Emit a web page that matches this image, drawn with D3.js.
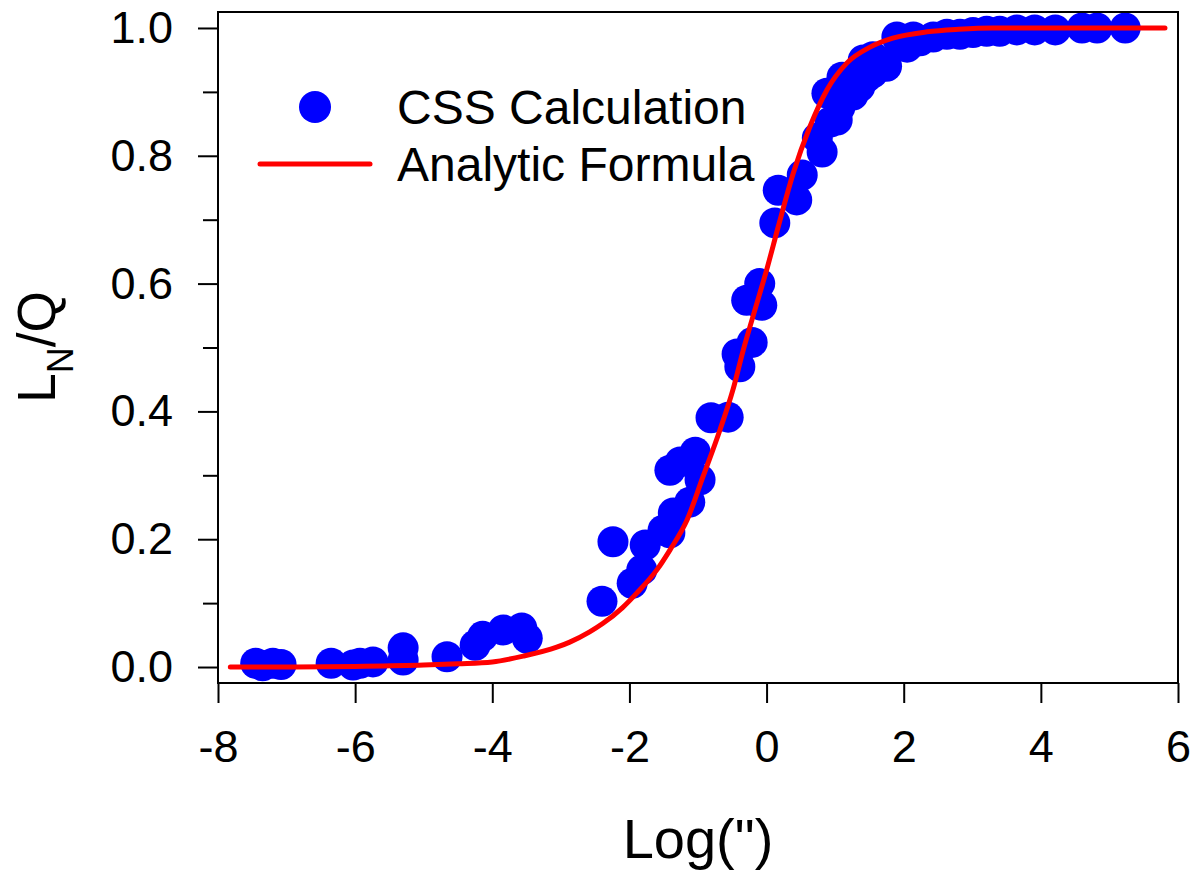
<!DOCTYPE html>
<html>
<head>
<meta charset="utf-8">
<script src="https://cdnjs.cloudflare.com/ajax/libs/d3/7.8.5/d3.min.js"></script>
<style>
  body { margin: 0; background: #fff; }
  svg text { font-family: "Liberation Sans", Arial, sans-serif; fill: #000; }
</style>
</head>
<body>
<div id="chart"></div>
<script>
// CSS calculation points
const cssX = [-7.45, -7.35, -7.2, -7.08, -6.35, -6.03, -5.93, -5.74, -5.30, -5.30, -4.66,
  -4.25, -4.14, -3.84, -3.57, -3.49, -2.40, -2.24, -1.96, -1.82, -1.77, -1.51, -1.41, -1.36,
  -1.12, -1.41, -1.26, -1.04, -0.97, -0.81, -0.56, -0.39, -0.43, -0.21, -0.29, -0.10, -0.07,
  0.12, 0.17, 0.44, 0.52, 0.81, 0.74, 0.93, 0.88, 1.10, 1.07, 1.03, 1.19, 1.26, 1.36, 1.46,
  1.55, 1.55, 1.68, 1.75, 1.41, 1.90, 2.05, 2.14, 2.24, 2.43, 2.63, 2.82, 3.01, 3.21, 3.40,
  3.65, 3.91, 4.21, 4.60, 4.82, 5.23];
const cssY = [0.006, 0.002, 0.006, 0.004, 0.006, 0.003, 0.006, 0.008, 0.030, 0.011, 0.016,
  0.034, 0.048, 0.058, 0.061, 0.045, 0.103, 0.196, 0.131, 0.152, 0.191, 0.214, 0.210, 0.241,
  0.258, 0.308, 0.321, 0.336, 0.293, 0.390, 0.391, 0.470, 0.490, 0.508, 0.574, 0.600, 0.566,
  0.695, 0.746, 0.731, 0.770, 0.806, 0.828, 0.853, 0.898, 0.923, 0.876, 0.856, 0.903, 0.895, 0.908, 0.923,
  0.955, 0.930, 0.947, 0.940, 0.950, 0.986, 0.970, 0.986, 0.980, 0.986, 0.990, 0.990, 0.993, 0.995, 0.995,
  0.997, 0.997, 0.997, 1.000, 1.000, 1.000];

// Analytic formula curve
const curveX = [-7.82, -7.0, -6.0, -5.0, -4.5, -4.0, -3.55, -3.06, -2.87, -2.58, -2.39, -2.1,
  -1.89, -1.6, -1.41, -1.16, -0.93, -0.68, -0.49, -0.34, -0.2, 0.0, 0.17, 0.39, 0.63, 0.88,
  1.17, 1.51, 1.84, 2.34, 2.8, 3.3, 4.5, 5.81];
const curveY = [0.0, 0.0, 0.001, 0.003, 0.005, 0.008, 0.017, 0.031, 0.039, 0.055, 0.068, 0.093,
  0.116, 0.152, 0.183, 0.23, 0.297, 0.371, 0.434, 0.496, 0.548, 0.621, 0.689, 0.773, 0.845, 0.903,
  0.945, 0.97, 0.984, 0.994, 0.998, 1.0, 1.0, 1.0];

const xTicks = [-8, -6, -4, -2, 0, 2, 4, 6];
const yTicks = [0, 0.2, 0.4, 0.6, 0.8, 1.0];
const yMinorTicks = [0.1, 0.3, 0.5, 0.7, 0.9];
const legendLabels = ["CSS Calculation", "Analytic Formula"];

const margin = {top: 12, right: 17, bottom: 187, left: 218};
const width = 1195 - margin.left - margin.right;
const height = 870 - margin.top - margin.bottom;

const svg = d3.select("#chart")
  .append("svg")
  .attr("width", width + margin.left + margin.right)
  .attr("height", height + margin.top + margin.bottom)
  .append("g")
  .attr("transform", `translate(${margin.left},${margin.top})`);

const x = d3.scaleLinear().domain([-8, 6]).range([0, width]);
const y = d3.scaleLinear().domain([-0.025, 1.025]).range([height, 0]);

// Axes (plain hyphen for negatives, like the original)
const xAxis = svg.append("g")
  .attr("transform", `translate(0,${height})`)
  .call(d3.axisBottom(x).tickValues(xTicks).tickSize(20).tickPadding(27).tickFormat(d => String(d)));

const yAxis = svg.append("g")
  .call(d3.axisLeft(y).tickValues(yTicks).tickSize(20).tickPadding(25).tickFormat(d3.format(".1f")));

const yMinor = svg.append("g")
  .call(d3.axisLeft(y).tickValues(yMinorTicks).tickSize(15).tickFormat(""));

[xAxis, yAxis, yMinor].forEach(a => {
  a.select(".domain").remove();
  a.selectAll("line").attr("stroke", "#000").attr("stroke-width", 2);
  a.selectAll("text").style("font-size", "45px").attr("fill", "#000");
});

// Points
const points = cssX.map((d, i) => ({x: d, y: cssY[i]}));
svg.append("g")
  .selectAll("circle")
  .data(points)
  .enter()
  .append("circle")
  .attr("cx", d => x(d.x))
  .attr("cy", d => y(d.y))
  .attr("r", 15.5)
  .attr("fill", "#0000ff");

// Curve
const curveData = curveX.map((d, i) => ({x: d, y: curveY[i]}));
const line = d3.line()
  .x(d => x(d.x))
  .y(d => y(d.y))
  .curve(d3.curveMonotoneX);

svg.append("path")
  .datum(curveData)
  .attr("fill", "none")
  .attr("stroke", "#ff0000")
  .attr("stroke-width", 5)
  .attr("stroke-linecap", "round")
  .attr("d", line);

// Frame
svg.append("rect")
  .attr("width", width)
  .attr("height", height)
  .attr("fill", "none")
  .attr("stroke", "#000")
  .attr("stroke-width", 2);

// Legend
const legend = svg.append("g");
legend.append("circle")
  .attr("cx", 315 - margin.left)
  .attr("cy", 107 - margin.top)
  .attr("r", 16)
  .attr("fill", "#0000ff");
legend.append("line")
  .attr("x1", 260 - margin.left)
  .attr("x2", 370 - margin.left)
  .attr("y1", 164 - margin.top)
  .attr("y2", 164 - margin.top)
  .attr("stroke", "#ff0000")
  .attr("stroke-width", 5)
  .attr("stroke-linecap", "round");
legend.selectAll("text")
  .data(legendLabels)
  .enter()
  .append("text")
  .attr("x", 397 - margin.left)
  .attr("y", (d, i) => 124 - margin.top + i * 57)
  .style("font-size", "48px")
  .text(d => d);

// Axis titles
svg.append("text")
  .attr("x", width / 2)
  .attr("y", 858 - margin.top)
  .attr("text-anchor", "middle")
  .style("font-size", "56px")
  .text('Log(")');

const yTitle = svg.append("text")
  .attr("transform", `translate(${55 - margin.left},${347 - margin.top}) rotate(-90)`)
  .attr("text-anchor", "middle")
  .style("font-size", "53px");
yTitle.append("tspan").text("L");
yTitle.append("tspan").attr("dy", 18).style("font-size", "36px").text("N");
yTitle.append("tspan").attr("dy", -18).text("/Q");
</script>
</body>
</html>
